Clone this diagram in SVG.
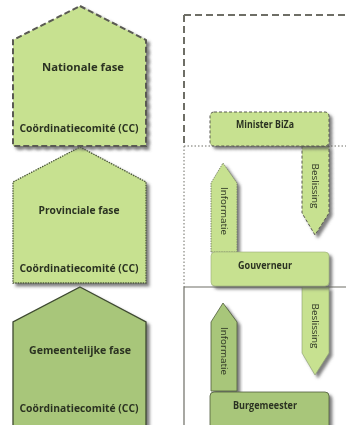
<svg xmlns="http://www.w3.org/2000/svg" width="346" height="425" viewBox="0 0 346 425">
<defs>
<filter id="sh" x="-10%" y="-10%" width="130%" height="130%">
<feDropShadow dx="3" dy="3" stdDeviation="1.5" flood-color="#555" flood-opacity="0.75"/>
</filter>
</defs>
<style>
.lt{fill:#c7e190}
.dk{fill:#a8c67a}
.nat{stroke:#5a5a52;stroke-width:2;stroke-dasharray:6 3}
.prv{stroke:#4e5a3c;stroke-width:1.3;stroke-dasharray:1.5 1}
.gem{stroke:#3e4a30;stroke-width:1.3}
.t{font-family:"Open Sans","Liberation Sans",sans-serif;font-weight:bold;font-size:10.5px;fill:#2c3322;text-anchor:middle}
.s{font-family:"Open Sans","Liberation Sans",sans-serif;font-size:8.5px;fill:#2c3322;text-anchor:middle}
.frame{fill:none;stroke:#6e6e66}
</style>
<rect width="346" height="425" fill="#fff"/>

<g id="frames">
<path class="frame" d="M184,15 H346 M184,15 V146" stroke-width="2" stroke-dasharray="7 4"/>
<path class="frame" d="M184,146 V287 M184,146 H346" stroke-width="1" stroke-dasharray="1.5 2"/>
<path class="frame" d="M184,287 V425 M184,287 H346" stroke-width="1.2"/>
</g>

<g id="gemeentelijke" filter="url(#sh)">
<polygon class="dk gem" points="80,287 146,322 146,430 13,430 13,322"/>
<text class="t" x="80" y="354" textLength="102" lengthAdjust="spacingAndGlyphs">Gemeentelijke fase</text>
<text class="t" x="79" y="412" textLength="119" lengthAdjust="spacingAndGlyphs">Coördinatiecomité (CC)</text>
</g>

<g id="provinciale" filter="url(#sh)">
<polygon class="lt prv" points="80,147 146,182 146,283 13,283 13,182"/>
<text class="t" x="79" y="214" textLength="81" lengthAdjust="spacingAndGlyphs">Provinciale fase</text>
<text class="t" x="79" y="272" textLength="119" lengthAdjust="spacingAndGlyphs">Coördinatiecomité (CC)</text>
</g>

<g id="nationale" filter="url(#sh)">
<polygon class="lt nat" points="80,6 146,40 146,146 13,146 13,40"/>
<text class="t" x="83" y="71" textLength="82" lengthAdjust="spacingAndGlyphs">Nationale fase</text>
<text class="t" x="79" y="132" textLength="119" lengthAdjust="spacingAndGlyphs">Coördinatiecomité (CC)</text>
</g>

<g id="connectors">
<g id="beslissing1" filter="url(#sh)">
<polygon class="lt" points="302,146 329,146 329,213 315,235 302,213" stroke="#5a5a52" stroke-width="1" stroke-dasharray="3 2"/>
<text class="s" transform="translate(312,186) rotate(90)" textLength="45" lengthAdjust="spacingAndGlyphs">Beslissing</text>
</g>
<g id="informatie1" filter="url(#sh)">
<polygon class="lt" points="211,252 211,183 223,163 237,183 237,252" stroke="#6a7060" stroke-width="0.8" stroke-dasharray="1.5 1"/>
<text class="s" transform="translate(221,211) rotate(90)" textLength="48" lengthAdjust="spacingAndGlyphs">Informatie</text>
</g>
<g id="beslissing2" filter="url(#sh)">
<polygon class="lt" points="302,287 329,287 329,353 315,375 302,353" stroke="#8a9a70" stroke-width="0.6"/>
<text class="s" transform="translate(312,326) rotate(90)" textLength="45" lengthAdjust="spacingAndGlyphs">Beslissing</text>
</g>
<g id="informatie2" filter="url(#sh)">
<polygon class="dk" points="211,391 211,322 223,303 237,322 237,391" stroke="#4e5a3c" stroke-width="0.8"/>
<text class="s" transform="translate(221,351) rotate(90)" textLength="48" lengthAdjust="spacingAndGlyphs">Informatie</text>
</g>
</g>

<g id="minister" filter="url(#sh)">
<rect class="lt" x="210" y="112" width="119" height="34" rx="4" stroke="#5a5a52" stroke-width="1" stroke-dasharray="3 2"/>
<text class="t" x="265" y="128" textLength="58" lengthAdjust="spacingAndGlyphs">Minister BiZa</text>
</g>

<g id="gouverneur" filter="url(#sh)">
<rect class="lt" x="211" y="252" width="118" height="34" rx="4" stroke="#9aac78" stroke-width="0.6"/>
<text class="t" x="265" y="269" textLength="54" lengthAdjust="spacingAndGlyphs">Gouverneur</text>
</g>

<g id="burgemeester" filter="url(#sh)">
<rect class="dk" x="210" y="392" width="119" height="40" rx="4" stroke="#4e5a3c" stroke-width="0.8"/>
<text class="t" x="265" y="409" textLength="64" lengthAdjust="spacingAndGlyphs">Burgemeester</text>
</g>
</svg>
